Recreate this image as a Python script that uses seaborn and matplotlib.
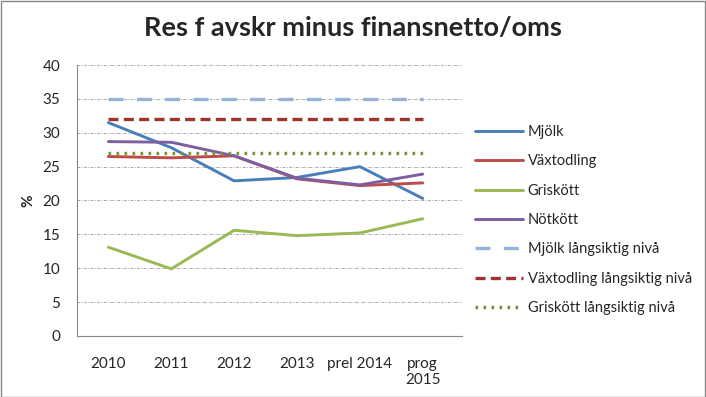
import numpy as np
import pandas as pd
import matplotlib
matplotlib.use("Agg")
import matplotlib.pyplot as plt
import seaborn as sns

years = ["2010", "2011", "2012", "2013", "prel 2014", "prog\n2015"]
mjolk = [31.5, 27.8, 22.9, 23.4, 25.0, 20.3]
vaxtodling = [26.5, 26.3, 26.6, 23.2, 22.2, 22.6]
griskott = [13.1, 9.9, 15.6, 14.8, 15.2, 17.3]
notkott = [28.7, 28.6, 26.6, 23.3, 22.3, 23.9]
mjolk_lang = [35, 35, 35, 35, 35, 35]
vaxt_lang = [32, 32, 32, 32, 32, 32]
gris_lang = [27, 27, 27, 27, 27, 27]

sns.set_style("white")
plt.rcParams["font.family"] = ["Lato", "DejaVu Sans"]

fig = plt.figure(figsize=(7.06, 3.97), dpi=100)
ax = fig.add_axes([0.109, 0.154, 0.545, 0.682])

x = np.arange(len(years))
series = [
    ("Mjölk", mjolk, "#4A7EBB", None),
    ("Växtodling", vaxtodling, "#BE4B48", None),
    ("Griskött", griskott, "#98B954", None),
    ("Nötkött", notkott, "#7D5FA0", None),
    ("Mjölk långsiktig nivå", mjolk_lang, "#95B3D7", (0, (4.5, 4))),
    ("Växtodling långsiktig nivå", vaxt_lang, "#A0322F", (0, (3, 1.6))),
    ("Griskött långsiktig nivå", gris_lang, "#77933C", (0, (0.8, 1.6))),
]
for name, vals, col, dash in series:
    df = pd.DataFrame({"x": x, "y": vals})
    sns.lineplot(data=df, x="x", y="y", ax=ax, color=col, lw=2.1 if dash is None else 2.4,
                 label=name, linestyle=dash if dash else "-")

ax.set_xlim(-0.5, len(years) - 0.38)
ax.set_ylim(0, 40)
ax.set_yticks(range(0, 41, 5))
ax.set_xticks(x)
ax.set_xticklabels(years, fontsize=11)
ax.tick_params(axis="y", labelsize=11, length=0, pad=12)
ax.tick_params(axis="x", length=0, pad=15)
ax.grid(axis="y", color="#A6A6A6", linestyle=(0, (3, 1.5, 0.8, 1.5)), lw=0.7)
for s in ["top", "right"]:
    ax.spines[s].set_visible(False)
for s in ["left", "bottom"]:
    ax.spines[s].set_color("#888888")
    ax.spines[s].set_linewidth(0.8)
ax.set_xlabel("")
ax.set_ylabel("%", fontsize=11, fontweight="bold", labelpad=5)

ax.legend(loc="upper left", bbox_to_anchor=(1.02, 0.80), frameon=False, fontsize=10.5,
          handlelength=3.3, labelspacing=1.05, handletextpad=0.3, borderaxespad=0)

fig.suptitle("Res f avskr minus finansnetto/oms", fontsize=19.5, fontweight="bold", y=0.96)
fig.patches.append(plt.Rectangle((0.001, 0.001), 0.997, 0.997, transform=fig.transFigure,
                                 fill=False, edgecolor="#888888", lw=1))
fig.savefig("out.png", dpi=100)
